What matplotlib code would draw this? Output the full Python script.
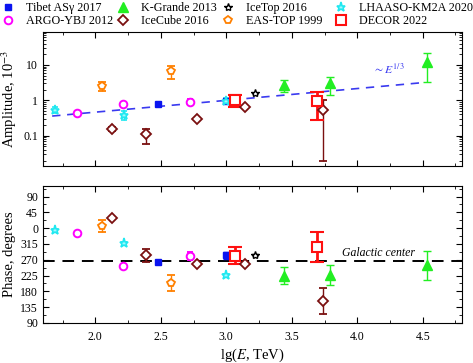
import matplotlib
matplotlib.use("Agg")
import matplotlib.pyplot as plt
import numpy as np
from matplotlib.ticker import MultipleLocator, FixedLocator, LogLocator, NullFormatter

plt.rcParams['font.family'] = ['Liberation Serif', 'DejaVu Serif']
plt.rcParams['mathtext.fontset'] = 'stix'

# lg(E/TeV), amplitude (1e-3), amplitude error, phase (deg), phase error
tibet_x = [2.48, 3.0]
tibet_a = [0.79, 0.95]
tibet_ae = [0.05, 0.08]
tibet_p = [263, 283]
tibet_pe = [4, 10]

argo_x = [1.86, 2.21, 2.72]
argo_a = [0.43, 0.80, 0.92]
argo_ae = [0.03, 0.06, 0.18]
argo_p = [347, 252, 281]
argo_pe = [3, 3, 12]

kgrande_x = [3.44, 3.79, 4.53]
kgrande_a = [2.7, 3.0, 12.4]
kgrande_ae = [1.0, 1.6, 9.2]
kgrande_p = [225, 227, 254]
kgrande_pe = [23, 28, 42]

icecube_x = [2.13, 2.39, 2.78, 3.14, 3.74]
icecube_a = [0.16, 0.11, 0.29, 0.65, 0.52]
icecube_ae = [0.02, 0.05, 0.02, 0.05, 0.50]
icecube_p = [29, 283, 258, 258, 153]
icecube_pe = [4, 18, 3, 4, 38]

icetop_x = [3.22]
icetop_a = [1.6]
icetop_ae = [0.05]
icetop_p = [284]
icetop_pe = [2]

eastop_x = [2.05, 2.58]
eastop_a = [2.6, 6.7]
eastop_ae = [0.8, 2.7]
eastop_p = [6, 204]
eastop_pe = [18, 22]

lhaaso_x = [1.695, 2.22, 3.0]
lhaaso_a = [0.55, 0.39, 0.98]
lhaaso_ae = [0.10, 0.12, 0.15]
lhaaso_p = [354, 317, 227]
lhaaso_pe = [3, 3, 3]

decor_x = [3.065, 3.695]
decor_a = [1.05, 0.97]
decor_ae = [0.40, 0.70]
decor_p = [282, 307]
decor_pe = [23, 42]

fit_x = [1.67, 4.5]
gc_phase = 266.4


def wrap(p):
    p = np.asarray(p, dtype=float)
    return np.where(p < 90, p + 360, p)


series = [
    ("Tibet AS\u03b3 2017", tibet_x, tibet_a, tibet_ae, tibet_p, tibet_pe,
     dict(marker='s', color='#0a14f0', mfc='#0a14f0', ms=5, elw=1.0, cap=2, mew=1.0)),
    ("ARGO-YBJ 2012", argo_x, argo_a, argo_ae, argo_p, argo_pe,
     dict(marker='o', color='#ff00ff', mfc='white', ms=5.5, elw=1.0, cap=2.5, mew=1.4)),
    ("K-Grande 2013", kgrande_x, kgrande_a, kgrande_ae, kgrande_p, kgrande_pe,
     dict(marker='^', color='#22ee22', mfc='#22ee22', ms=6.5, elw=1.0, cap=3, mew=1.0)),
    ("IceCube 2016", icecube_x, icecube_a, icecube_ae, icecube_p, icecube_pe,
     dict(marker='D', color='#7a1010', mfc='white', ms=5, elw=1.0, cap=3, mew=1.3)),
    ("IceTop 2016", icetop_x, icetop_a, icetop_ae, icetop_p, icetop_pe,
     dict(marker='*', color='black', mfc='white', ms=6, elw=1.0, cap=2, mew=1.0)),
    ("EAS-TOP 1999", eastop_x, eastop_a, eastop_ae, eastop_p, eastop_pe,
     dict(marker='p', color='#ff8000', mfc='white', ms=6, elw=1.0, cap=3, mew=1.3)),
    ("LHAASO-KM2A 2020", lhaaso_x, lhaaso_a, lhaaso_ae, lhaaso_p, lhaaso_pe,
     dict(marker='*', color='#20e8f0', mfc='#a0f8ff', ms=6.5, elw=1.0, cap=2.5, mew=1.2)),
    ("DECOR 2022", decor_x, decor_a, decor_ae, decor_p, decor_pe,
     dict(marker='s', color='#ff1010', mfc='white', ms=6.5, elw=2.0, cap=5, mew=1.5)),
]

fig = plt.figure(figsize=(4.73, 3.63), dpi=100)
ax1 = fig.add_axes([0.0909, 0.5427, 0.8858, 0.3691])
ax2 = fig.add_axes([0.0909, 0.1102, 0.8858, 0.3774])

handles = []
for name, x, a, ae, p, pe, st in series:
    kw = dict(fmt=st['marker'], color=st['color'], mfc=st['mfc'], mec=st['color'],
              ms=st['ms'], mew=st['mew'], elinewidth=st['elw'], capsize=st['cap'],
              capthick=st['elw'], zorder=3)
    ax1.errorbar(x, a, yerr=ae, **kw)
    ax2.errorbar(x, wrap(p), yerr=pe, **kw)
    h, = ax1.plot([], [], st['marker'], color=st['color'], mfc=st['mfc'], mec=st['color'],
                  ms=st['ms'], mew=st['mew'], label=name)
    handles.append(h)

# ~E^(1/3) trend
fx = np.linspace(fit_x[0], fit_x[1], 50)
ax1.plot(fx, 1.0 * 10 ** ((fx - 3.0) / 3.0), color='#3a3af0', lw=1.2,
         dashes=(5, 4), zorder=2)
ax1.text(4.12, 5.4, r'$\sim E^{1/3}$', color='#3a3af0', fontsize=8.5, style='italic')

ax1.set_yscale('log')
ax1.set_ylim(0.014, 85)
ax1.set_xlim(1.6, 4.8)
ax1.set_yticks([0.1, 1, 10])
ax1.set_yticklabels(['0.1', '1', '10'])
ax1.yaxis.set_minor_locator(LogLocator(base=10, subs=np.arange(2, 10), numticks=20))
ax1.yaxis.set_minor_formatter(NullFormatter())
ax1.set_ylabel(r'Amplitude, 10$^{-3}$', fontsize=10.5, labelpad=3)

ax2.axhline(gc_phase, color='black', lw=1.4, dashes=(6, 4), zorder=1)
ax2.text(4.16, gc_phase + 5, 'Galactic center', fontsize=8.5, style='italic',
         ha='center', va='bottom')
ax2.set_xlim(1.6, 4.8)
ax2.set_ylim(90, 480)
yt = np.arange(90, 451, 45)
ax2.yaxis.set_major_locator(FixedLocator(yt))
ax2.set_yticklabels([str(int(v % 360)) for v in yt])
ax2.yaxis.set_minor_locator(MultipleLocator(22.5))
ax2.set_ylabel('Phase, degrees', fontsize=10.5, labelpad=3)
ax2.set_xlabel(r'lg($E$, TeV)', fontsize=10.5, labelpad=3)

for ax in (ax1, ax2):
    ax.xaxis.set_major_locator(FixedLocator([2.0, 2.5, 3.0, 3.5, 4.0, 4.5]))
    ax.xaxis.set_minor_locator(MultipleLocator(0.25))
    ax.tick_params(which='both', direction='in', top=True, right=True, labelsize=8.5)
    ax.tick_params(which='major', length=4)
    ax.tick_params(which='minor', length=2.5)
ax1.tick_params(labelbottom=False)
ax2.tick_params(axis='x', which='major', pad=5.5)

# legend: four columns of two entries, placed like the original
col_x = [-0.012, 0.2311, 0.4531, 0.6920]
for i, cx in enumerate(col_x):
    leg = fig.legend(handles=handles[2 * i:2 * i + 2], loc='upper left',
                     bbox_to_anchor=(cx, 1.018), ncol=1, frameon=False, fontsize=8.7,
                     handlelength=0.8, handletextpad=1.15, labelspacing=0.12,
                     borderpad=0.2)

fig.savefig('out.png', dpi=100)
